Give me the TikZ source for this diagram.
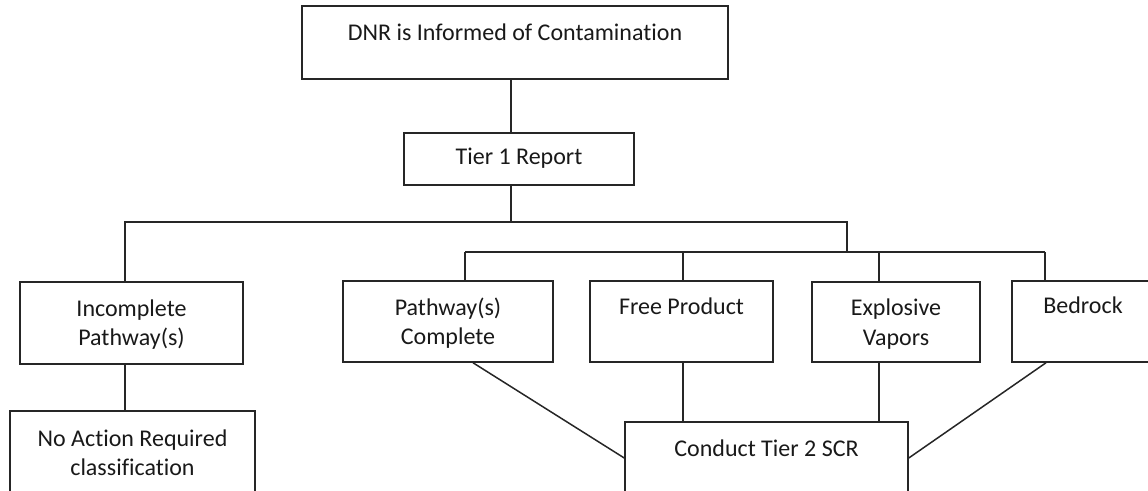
\documentclass[tikz,border=0pt]{standalone}
\usepackage{fontspec}
\setmainfont[Ligatures={NoCommon}]{Carlito}
\begin{document}
\begin{tikzpicture}[x=1pt,y=-1pt,
  box/.style={draw=black!85, line width=1.5pt, inner sep=0pt, align=center,
    font=\fontsize{24}{29.5}\selectfont, text=black!90},
  link/.style={draw=black!85, line width=1.5pt}]
\useasboundingbox (0,0) rectangle (1148,490);
\clip (0,0) rectangle (1148,490);
% boxes
\node[box, minimum width=426pt, minimum height=73pt, text height=34pt, text depth=39pt] (dnr) at (515,42.5) {DNR is Informed of Contamination};
\node[box, minimum width=230pt, minimum height=52pt, text height=31pt, text depth=21pt] (tier1) at (519,159) {Tier 1 Report};
\node[box, minimum width=223pt, minimum height=82pt, text height=63.5pt, text depth=18.5pt] (inc) at (131.5,323) {Incomplete\\Pathway(s)};
\node[box, minimum width=245pt, minimum height=84pt, text height=64.5pt, text depth=19.5pt] (noact) at (132.5,453) {No Action Required\\classification};
\node[box, minimum width=210pt, minimum height=81pt, text height=63.5pt, text depth=17.5pt] (pc) at (448,321.5) {Pathway(s)\\Complete};
\node[box, minimum width=183pt, minimum height=81pt, text height=33pt, text depth=48pt] (fp) at (681.5,321.5) {Free Product};
\node[box, minimum width=168pt, minimum height=80pt, text height=63pt, text depth=17pt] (ev) at (896,322) {Explosive\\Vapors};
\node[box, minimum width=142pt, minimum height=81pt, text height=32pt, text depth=49pt] (bed) at (1083,321.5) {Bedrock};
\node[box, minimum width=283pt, minimum height=82pt, text height=34pt, text depth=48pt] (scr) at (766.5,463) {Conduct Tier 2 SCR};
% helper coordinates
\coordinate (trunk) at (511,0);
\coordinate (barL) at (125,222);
\coordinate (barR) at (847,222);
\coordinate (join) at (847,252);
\coordinate (subL) at (465,252);
\coordinate (subR) at (1045,252);
\coordinate (fpx) at (683,252);
\coordinate (evx) at (879,252);
\coordinate (dl) at (473,0);
\coordinate (dr) at (1046,0);
\coordinate (dy) at (0,458);
% connectors
\draw[link] (dnr.south -| trunk) -- (tier1.north -| trunk);
\draw[link] (tier1.south -| trunk) -- (barL -| trunk);
\draw[link] (inc.north -| barL) -- (barL) -- (barR) -- (join);
\draw[link] (subL) -- (subR);
\draw[link] (subL) -- (pc.north -| subL);
\draw[link] (fpx) -- (fp.north -| fpx);
\draw[link] (evx) -- (ev.north -| evx);
\draw[link] (subR) -- (bed.north -| subR);
\draw[link] (inc.south -| barL) -- (noact.north -| barL);
\draw[link] (pc.south -| dl) -- (scr.west |- dy);
\draw[link] (fp.south -| fpx) -- (scr.north -| fpx);
\draw[link] (ev.south -| evx) -- (scr.north -| evx);
\draw[link] (bed.south -| dr) -- (scr.east |- dy);
\end{tikzpicture}
\end{document}
